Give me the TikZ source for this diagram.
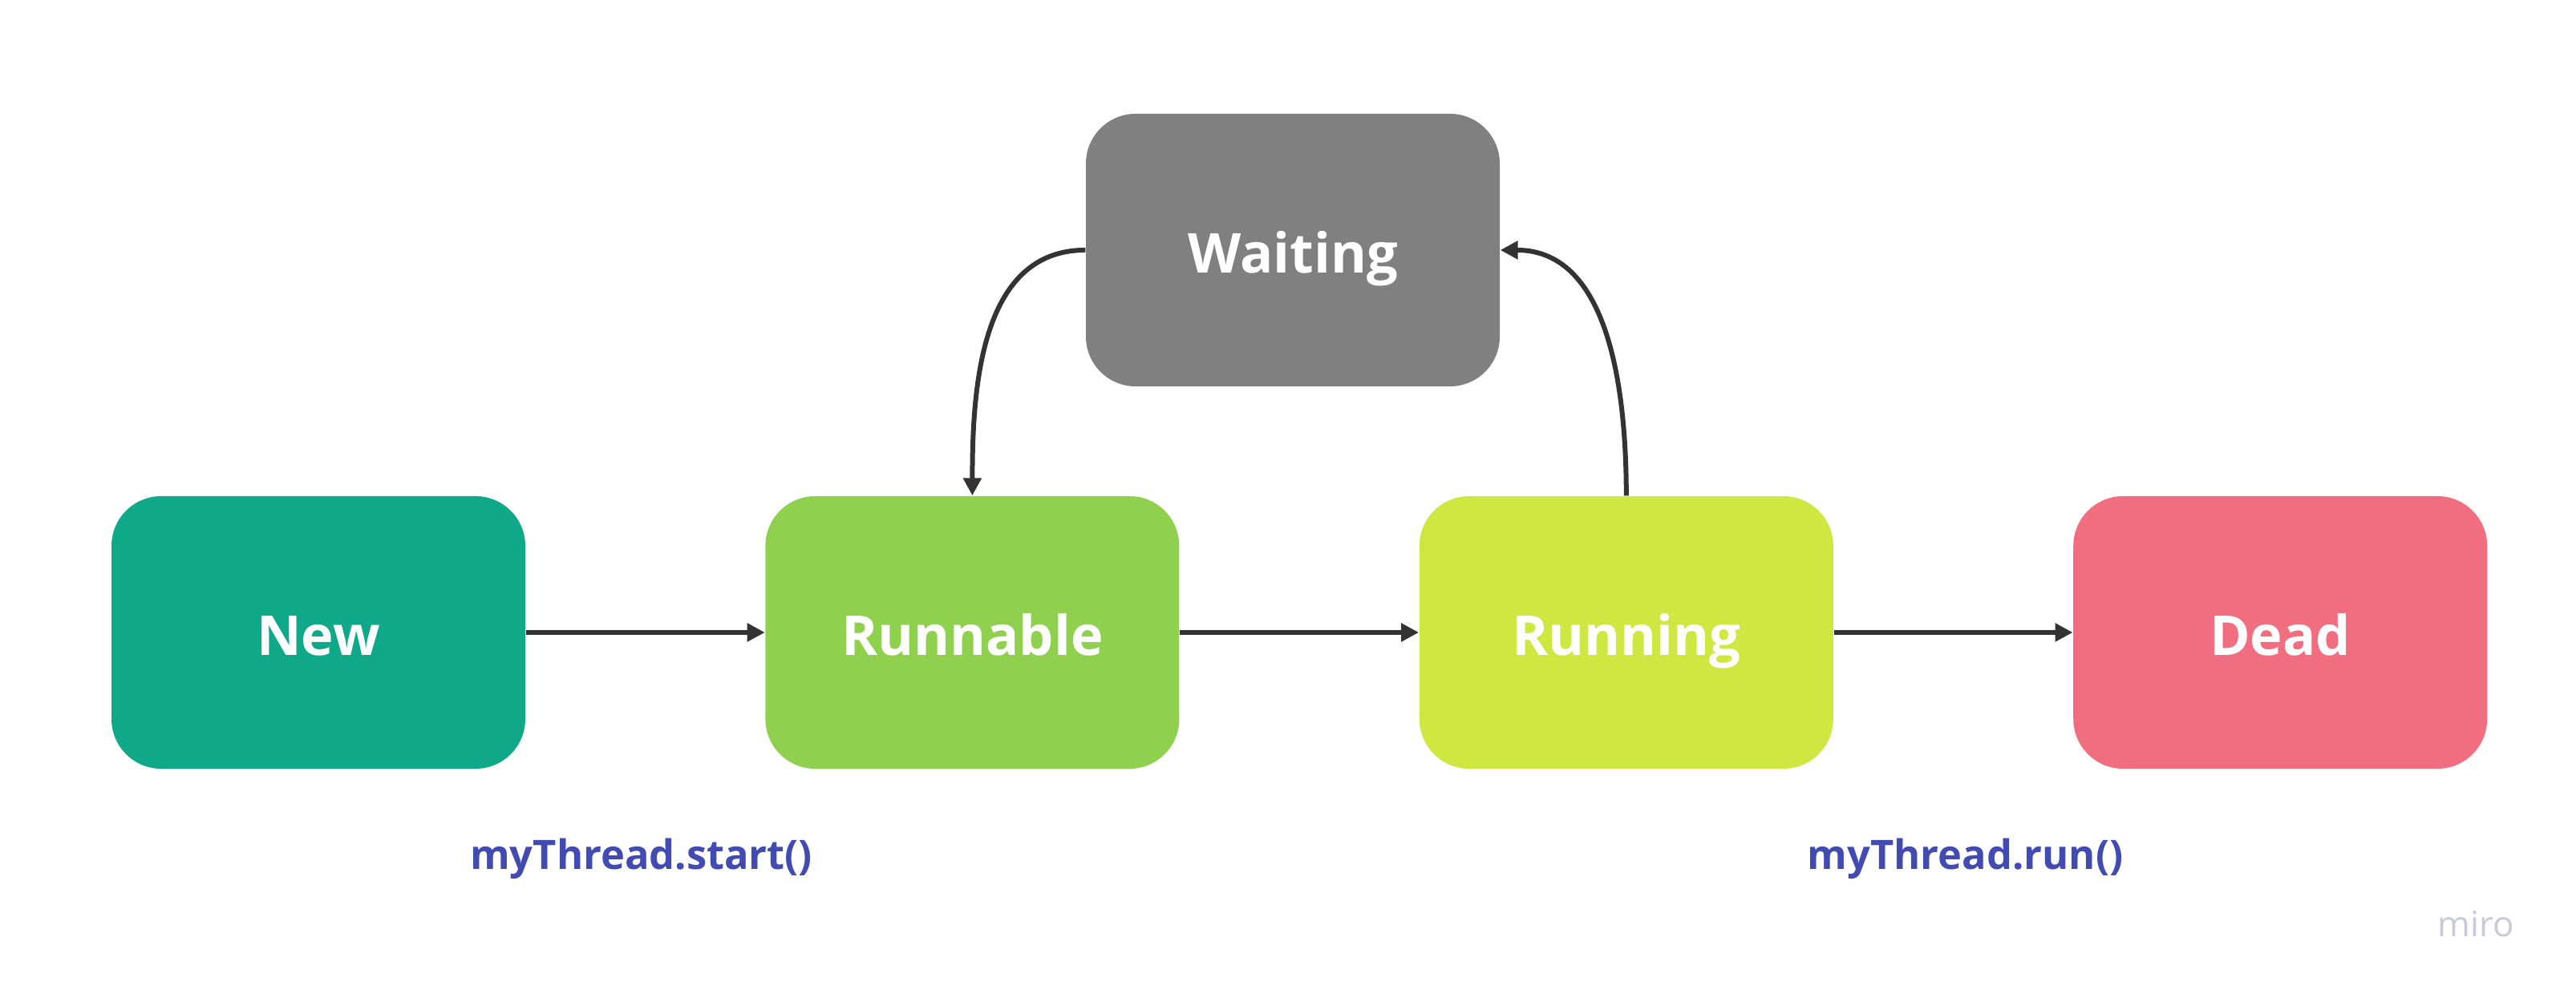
\documentclass[tikz,border=0pt]{standalone}
\usepackage{fontspec}
\setmainfont{Open Sans}
\usetikzlibrary{arrows.meta, positioning, calc}
\definecolor{newgreen}{HTML}{0FA98A}
\definecolor{runnablegreen}{HTML}{8FD14F}
\definecolor{runninglime}{HTML}{CEE741}
\definecolor{deadred}{HTML}{F16E80}
\definecolor{waitgrey}{HTML}{808080}
\definecolor{callblue}{HTML}{414BB2}
\definecolor{arrowgrey}{HTML}{333333}
\definecolor{miromark}{HTML}{C9CAD8}
\tikzset{
    state/.style={rectangle, rounded corners=0.62cm, minimum width=5.16cm,
                  minimum height=3.40cm, inner sep=0pt, align=center,
                  text height=16.2pt, text depth=0pt,
                  text=white, font=\fontsize{19.5}{24}\selectfont\bfseries},
    flow/.style={-{Triangle[length=0.22cm, width=0.22cm]}, line width=0.06cm, draw=arrowgrey},
    call/.style={font=\fontsize{14.4}{17}\selectfont\bfseries, text=callblue},
}
\begin{document}
\begin{tikzpicture}
    \useasboundingbox (0,0) rectangle (32.12,12.45);

    \node[state, fill=newgreen] (new) at (3.97,4.56) {New};
    \node[state, fill=runnablegreen, right=2.98cm of new] (runnable) {Runnable};
    \node[state, fill=runninglime, right=2.98cm of runnable] (running) {Running};
    \node[state, fill=deadred, right=2.98cm of running] (dead) {Dead};
    \node[state, fill=waitgrey] (waiting) at (16.12,9.33) {Waiting};

    \node[call] (startcall) at ($(new.south east)!0.5!(runnable.south west)+(-0.05,-1.12)$)
        {myThread.start()};
    \node[call] (runcall) at ($(running.south east)!0.5!(dead.south west)+(0.15,-1.12)$)
        {myThread.run()};

    \node[font=\fontsize{12.5}{15}\selectfont, text=miromark] (miro) at (30.87,0.92) {miro};

    % New -> Runnable -> Running -> Dead
    \draw[flow] (new) -- (runnable);
    \draw[flow] (runnable) -- (running);
    \draw[flow] (running) -- (dead);

    % Waiting -> Runnable
    \draw[flow] (waiting.west) to[out=180, in=90] (runnable.north);

    % Running -> Waiting
    \draw[flow] (running.north) to[out=90, in=0] (waiting.east);

\end{tikzpicture}
\end{document}
